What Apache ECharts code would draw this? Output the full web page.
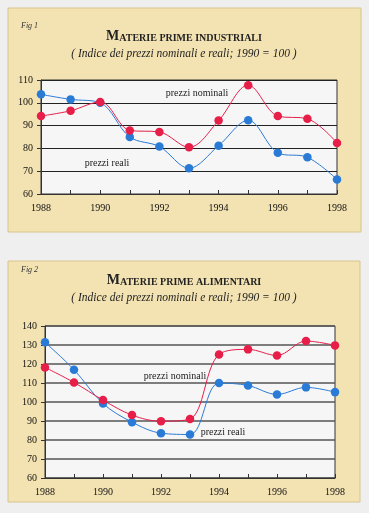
<!DOCTYPE html>
<html><head><meta charset="utf-8">
<script src="https://cdn.jsdelivr.net/npm/echarts@6/dist/echarts.min.js"></script>
<style>html,body{margin:0;padding:0;background:#efeff0;}#c{width:369px;height:513px;}</style>
</head><body><div id="c"></div>
<script>
const years = ['1988','1989','1990','1991','1992','1993','1994','1995','1996','1997','1998'];
// Fig 1 - Materie prime industriali
const indNominali = [94.2, 96.5, 100.4, 87.9, 87.2, 80.5, 92.2, 107.7, 94.2, 93.0, 82.4];
const indReali    = [103.7, 101.5, 100.0, 85.0, 80.8, 71.3, 81.2, 92.3, 78.1, 76.1, 66.4];
// Fig 2 - Materie prime alimentari
const aliNominali = [118.2, 110.3, 101.0, 93.1, 89.9, 91.1, 125.0, 127.7, 124.5, 132.1, 129.8];
const aliReali    = [131.4, 117.0, 99.2, 89.4, 83.6, 82.9, 110.0, 108.7, 104.0, 107.7, 105.2];
const ticks1 = {min: 60, max: 110, step: 10};
const ticks2 = {min: 60, max: 140, step: 10};

const RED = '#e61e48', BLUE = '#2a7bd6', SERIF = '"Liberation Serif","DejaVu Serif",serif';
const chart = echarts.init(document.getElementById('c'), null, {renderer: 'canvas'});

function xAxis(gi) {
  return {
    gridIndex: gi, type: 'category', data: years, boundaryGap: false,
    axisLine: {lineStyle: {color: '#333', width: 1}},
    axisTick: {inside: true, length: 4, interval: 0, lineStyle: {color: '#333'}},
    axisLabel: {interval: 1, color: '#111', fontFamily: SERIF, fontSize: 10, margin: 9}
  };
}
function yAxis(gi, t, splitColor, splitW) {
  return {
    gridIndex: gi, type: 'value', min: t.min, max: t.max, interval: t.step,
    axisLine: {show: true, lineStyle: {color: '#333', width: 1}},
    axisTick: {show: true, length: 4, lineStyle: {color: '#333'}},
    axisLabel: {color: '#111', fontFamily: SERIF, fontSize: 10, margin: 8},
    splitLine: {lineStyle: {color: splitColor, width: splitW}}
  };
}
function line(name, data, color, gi) {
  return {
    name, type: 'line', xAxisIndex: gi, yAxisIndex: gi, data, smooth: 0.35,
    symbol: 'circle', symbolSize: 8.5, showSymbol: true,
    lineStyle: {color, width: 1}, itemStyle: {color},
    z: color === RED ? 4 : 3, animation: false
  };
}
function titleTexts(figLabel, title, y0) {
  return [
    {type: 'text', left: figLabel.x, top: y0, style: {text: figLabel.t, font: 'italic 8px ' + SERIF, fill: '#333'}},
    {type: 'text', x: 184, y: y0 + 14, style: {
      text: '{a|M}{b|' + title + '}', textAlign: 'center', textVerticalAlign: 'middle',
      rich: {a: {font: 'bold 14px ' + SERIF, fill: '#222', verticalAlign: 'bottom'},
             b: {font: 'bold 10px ' + SERIF, fill: '#222', verticalAlign: 'bottom'}}}},
    {type: 'text', x: 184, y: y0 + 32, style: {
      text: '( Indice dei prezzi nominali e reali; 1990 = 100 )', textAlign: 'center', textVerticalAlign: 'middle',
      font: 'italic 11.5px ' + SERIF, fill: '#222'}}
  ];
}
function note(t, x, y) {
  return {type: 'text', x, y, z: 10, style: {text: t, textAlign: 'center', textVerticalAlign: 'middle',
    font: '10px ' + SERIF, fill: '#222'}};
}

chart.setOption({
  backgroundColor: '#efeff0',
  animation: false,
  graphic: [
    {type: 'rect', shape: {x: 8, y: 8, width: 353, height: 224}, z: -10,
      style: {fill: '#f4e3b2', stroke: '#d8c48c', lineWidth: 1}},
    {type: 'rect', shape: {x: 8, y: 261, width: 352, height: 241}, z: -10,
      style: {fill: '#f4e3b2', stroke: '#d8c48c', lineWidth: 1}},
    ...titleTexts({x: 21, t: 'Fig 1'}, 'ATERIE PRIME INDUSTRIALI', 22),
    ...titleTexts({x: 21, t: 'Fig 2'}, 'ATERIE PRIME ALIMENTARI', 266),
    note('prezzi nominali', 197, 93),
    note('prezzi reali', 107, 163),
    note('prezzi nominali', 175, 376),
    note('prezzi reali', 223, 432)
  ],
  grid: [
    {left: 41, top: 80, width: 296, height: 114, show: true, backgroundColor: '#f6f6f7', borderColor: '#333', borderWidth: 1},
    {left: 45, top: 326, width: 290, height: 152, show: true, backgroundColor: '#f6f6f7', borderColor: '#333', borderWidth: 1}
  ],
  xAxis: [xAxis(0), xAxis(1)],
  yAxis: [yAxis(0, ticks1, '#222', 1), yAxis(1, ticks2, '#555', 1.5)],
  series: [
    line('prezzi reali', indReali, BLUE, 0),
    line('prezzi nominali', indNominali, RED, 0),
    line('prezzi reali', aliReali, BLUE, 1),
    line('prezzi nominali', aliNominali, RED, 1)
  ]
});
</script></body></html>
